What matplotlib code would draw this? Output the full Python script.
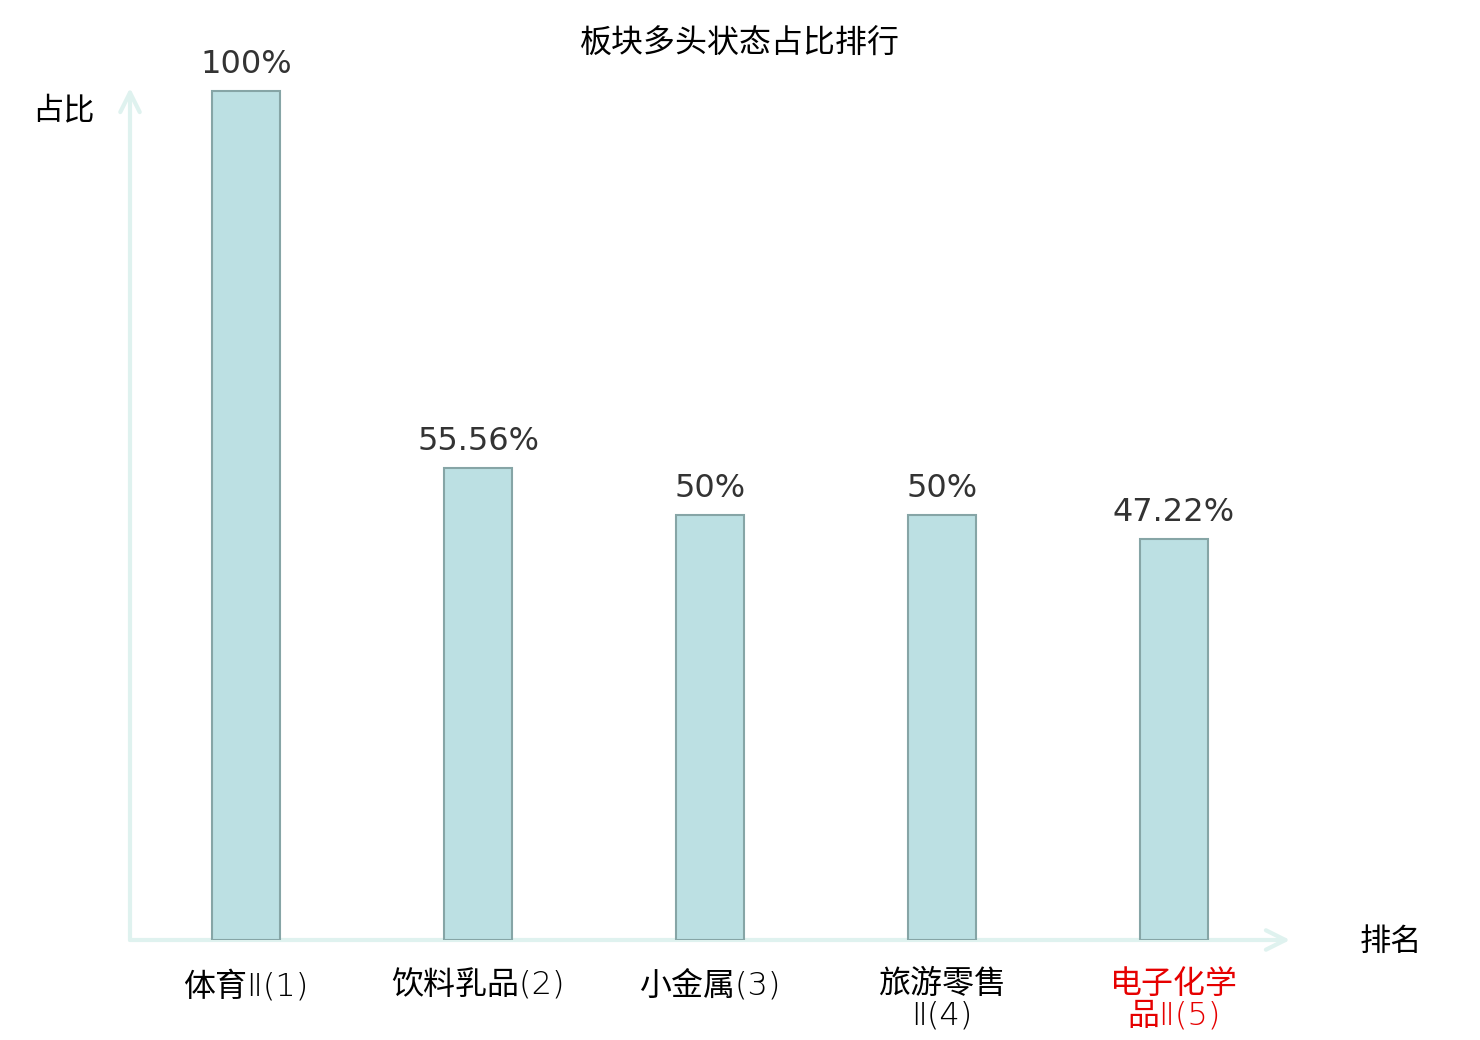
import matplotlib
matplotlib.use("Agg")
import matplotlib.pyplot as plt

categories = ["体育Ⅱ(1)", "饮料乳品(2)", "小金属(3)", "旅游零售\nⅡ(4)", "电子化学\n品Ⅱ(5)"]
values = [100, 55.56, 50, 50, 47.22]
value_labels = ["100%", "55.56%", "50%", "50%", "47.22%"]
label_colors = ["#000000", "#000000", "#000000", "#000000", "#e60000"]

cjk = ["Noto Sans CJK SC", "DejaVu Sans"]
tick_fam = ["DejaVu Sans", "Noto Sans CJK SC"]

fig = plt.figure(figsize=(14.8, 10.4), dpi=100)
ax = fig.add_axes([130/1480, 100/1040, (1290-130)/1480, (940-88)/1040])

x = list(range(len(categories)))
ax.bar(x, values, width=0.295, color="#bce0e3", edgecolor="#86a5a6", linewidth=1.5, zorder=2)
ax.set_xlim(-0.5, 4.5)
ax.set_ylim(0, 100.35)

for xi, v, lab in zip(x, values, value_labels):
    ax.annotate(lab, (xi, v), xytext=(0, 8), textcoords="offset points",
                ha="center", va="bottom", fontsize=23, color="#333333",
                family="DejaVu Sans")

for s in ax.spines.values():
    s.set_visible(False)
ax.set_yticks([])
ax.set_xticks(x)
ax.set_xticklabels(categories, family=tick_fam, weight=200, fontsize=23, linespacing=1.05)
for t, c in zip(ax.get_xticklabels(), label_colors):
    t.set_color(c)
ax.tick_params(axis="x", length=0, pad=21)

arrow_col = "#dff2ef"
astyle = "->,head_length=1.4,head_width=0.7"
ax.annotate("", xy=(1.0, 0), xytext=(0, 0), xycoords="axes fraction",
            arrowprops=dict(arrowstyle=astyle, color=arrow_col, lw=3, shrinkA=0, shrinkB=0),
            annotation_clip=False, zorder=1)
ax.annotate("", xy=(0, 1.0), xytext=(0, 0), xycoords="axes fraction",
            arrowprops=dict(arrowstyle=astyle, color=arrow_col, lw=3, shrinkA=0, shrinkB=0),
            annotation_clip=False, zorder=1)

fig.text(63/1480, 1 - 110/1040, "占比", family=cjk, fontsize=22.5, ha="center", va="center", color="#000000")
fig.text(1391/1480, 1 - 942/1040, "排名", family=cjk, fontsize=22.5, ha="center", va="center", color="#000000")
fig.text(740/1480, 1 - 44/1040, "板块多头状态占比排行", family=cjk, fontsize=23, ha="center", va="center", color="#000000")

fig.savefig("out.png", dpi=100)
